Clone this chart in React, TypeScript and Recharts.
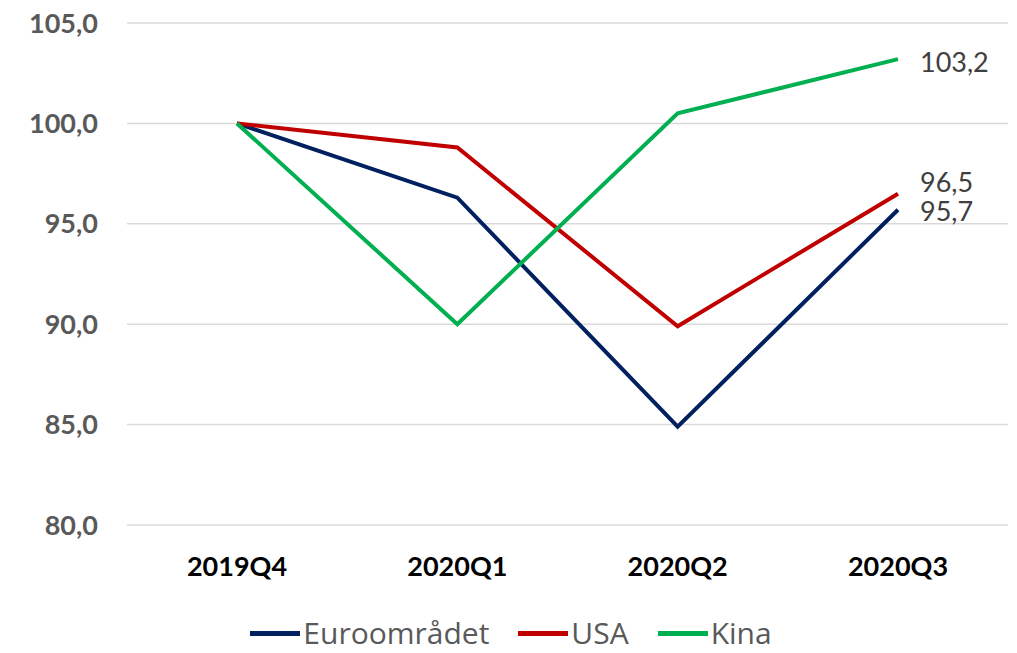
import { LineChart, Line, XAxis, YAxis, CartesianGrid, Legend, LabelList } from "recharts";

const quarters = ["2019Q4", "2020Q1", "2020Q2", "2020Q3"];
const euro = [100.0, 96.3, 84.9, 95.7];
const usa = [100.0, 98.8, 89.9, 96.5];
const kina = [100.0, 90.0, 100.5, 103.2];
const yTicks = [80, 85, 90, 95, 100, 105];

const FONT = "Lato, 'Open Sans', sans-serif";
const LEGEND_FONT = "'Open Sans', sans-serif";

const series = [
  { key: "euro", name: "Euroområdet", color: "#002060", labelDy: 1 },
  { key: "usa", name: "USA", color: "#C00000", labelDy: -12 },
  { key: "kina", name: "Kina", color: "#00B050", labelDy: 2 },
];

const data = quarters.map((q, i) => ({ q, euro: euro[i], usa: usa[i], kina: kina[i] }));

const fmt = (v: number) => v.toFixed(1).replace(".", ",");

// only the last point gets a value label
const lastLabel = (dy: number) => (props: any) => {
  const { x, y, value, index } = props;
  if (index !== quarters.length - 1) return null;
  return (
    <text x={x + 22} y={y + dy} fill="#404040" fontSize={27} fontFamily={FONT} dominantBaseline="central">
      {fmt(value)}
    </text>
  );
};

const CustomLegend = () => (
  <div
    style={{
      display: "flex",
      justifyContent: "center",
      alignItems: "center",
      gap: 29,
      fontFamily: LEGEND_FONT,
      paddingLeft: 14,
      height: 40,
      boxSizing: "border-box",
    }}
  >
    {series.map((s) => (
      <div key={s.key} style={{ display: "flex", alignItems: "center", height: 30 }}>
        <div style={{ width: 50, height: 5, background: s.color, marginRight: 3 }} />
        <span style={{ color: "#595959", fontSize: 30, lineHeight: "30px" }}>{s.name}</span>
      </div>
    ))}
  </div>
);

export default function App() {
  return (
    <div style={{ margin: -8, width: 1017, height: 653, background: "#fff", overflow: "visible" }}>
      <LineChart width={1017} height={653} data={data} margin={{ top: 23, right: 9, left: 0, bottom: 0 }}>
        <CartesianGrid vertical={false} stroke="#d9d9d9" strokeWidth={1.5} />
        <XAxis
          dataKey="q"
          axisLine={false}
          tickLine={false}
          tickSize={0}
          tickMargin={32}
          height={88}
          padding={{ left: 110, right: 110 }}
          tick={{ fill: "#000", fontSize: 27, fontWeight: 700, fontFamily: FONT }}
        />
        <YAxis
          domain={[80, 105]}
          ticks={yTicks}
          width={127}
          axisLine={false}
          tickLine={false}
          tickSize={0}
          tickMargin={29}
          tickFormatter={fmt}
          tick={{ fill: "#595959", fontSize: 27, fontWeight: 700, fontFamily: FONT }}
        />
        {series.map((s) => (
          <Line
            key={s.key}
            dataKey={s.key}
            name={s.name}
            stroke={s.color}
            strokeWidth={4}
            dot={false}
            isAnimationActive={false}
          >
            <LabelList dataKey={s.key} content={lastLabel(s.labelDy)} />
          </Line>
        ))}
        <Legend verticalAlign="bottom" height={40} content={<CustomLegend />} />
      </LineChart>
    </div>
  );
}
